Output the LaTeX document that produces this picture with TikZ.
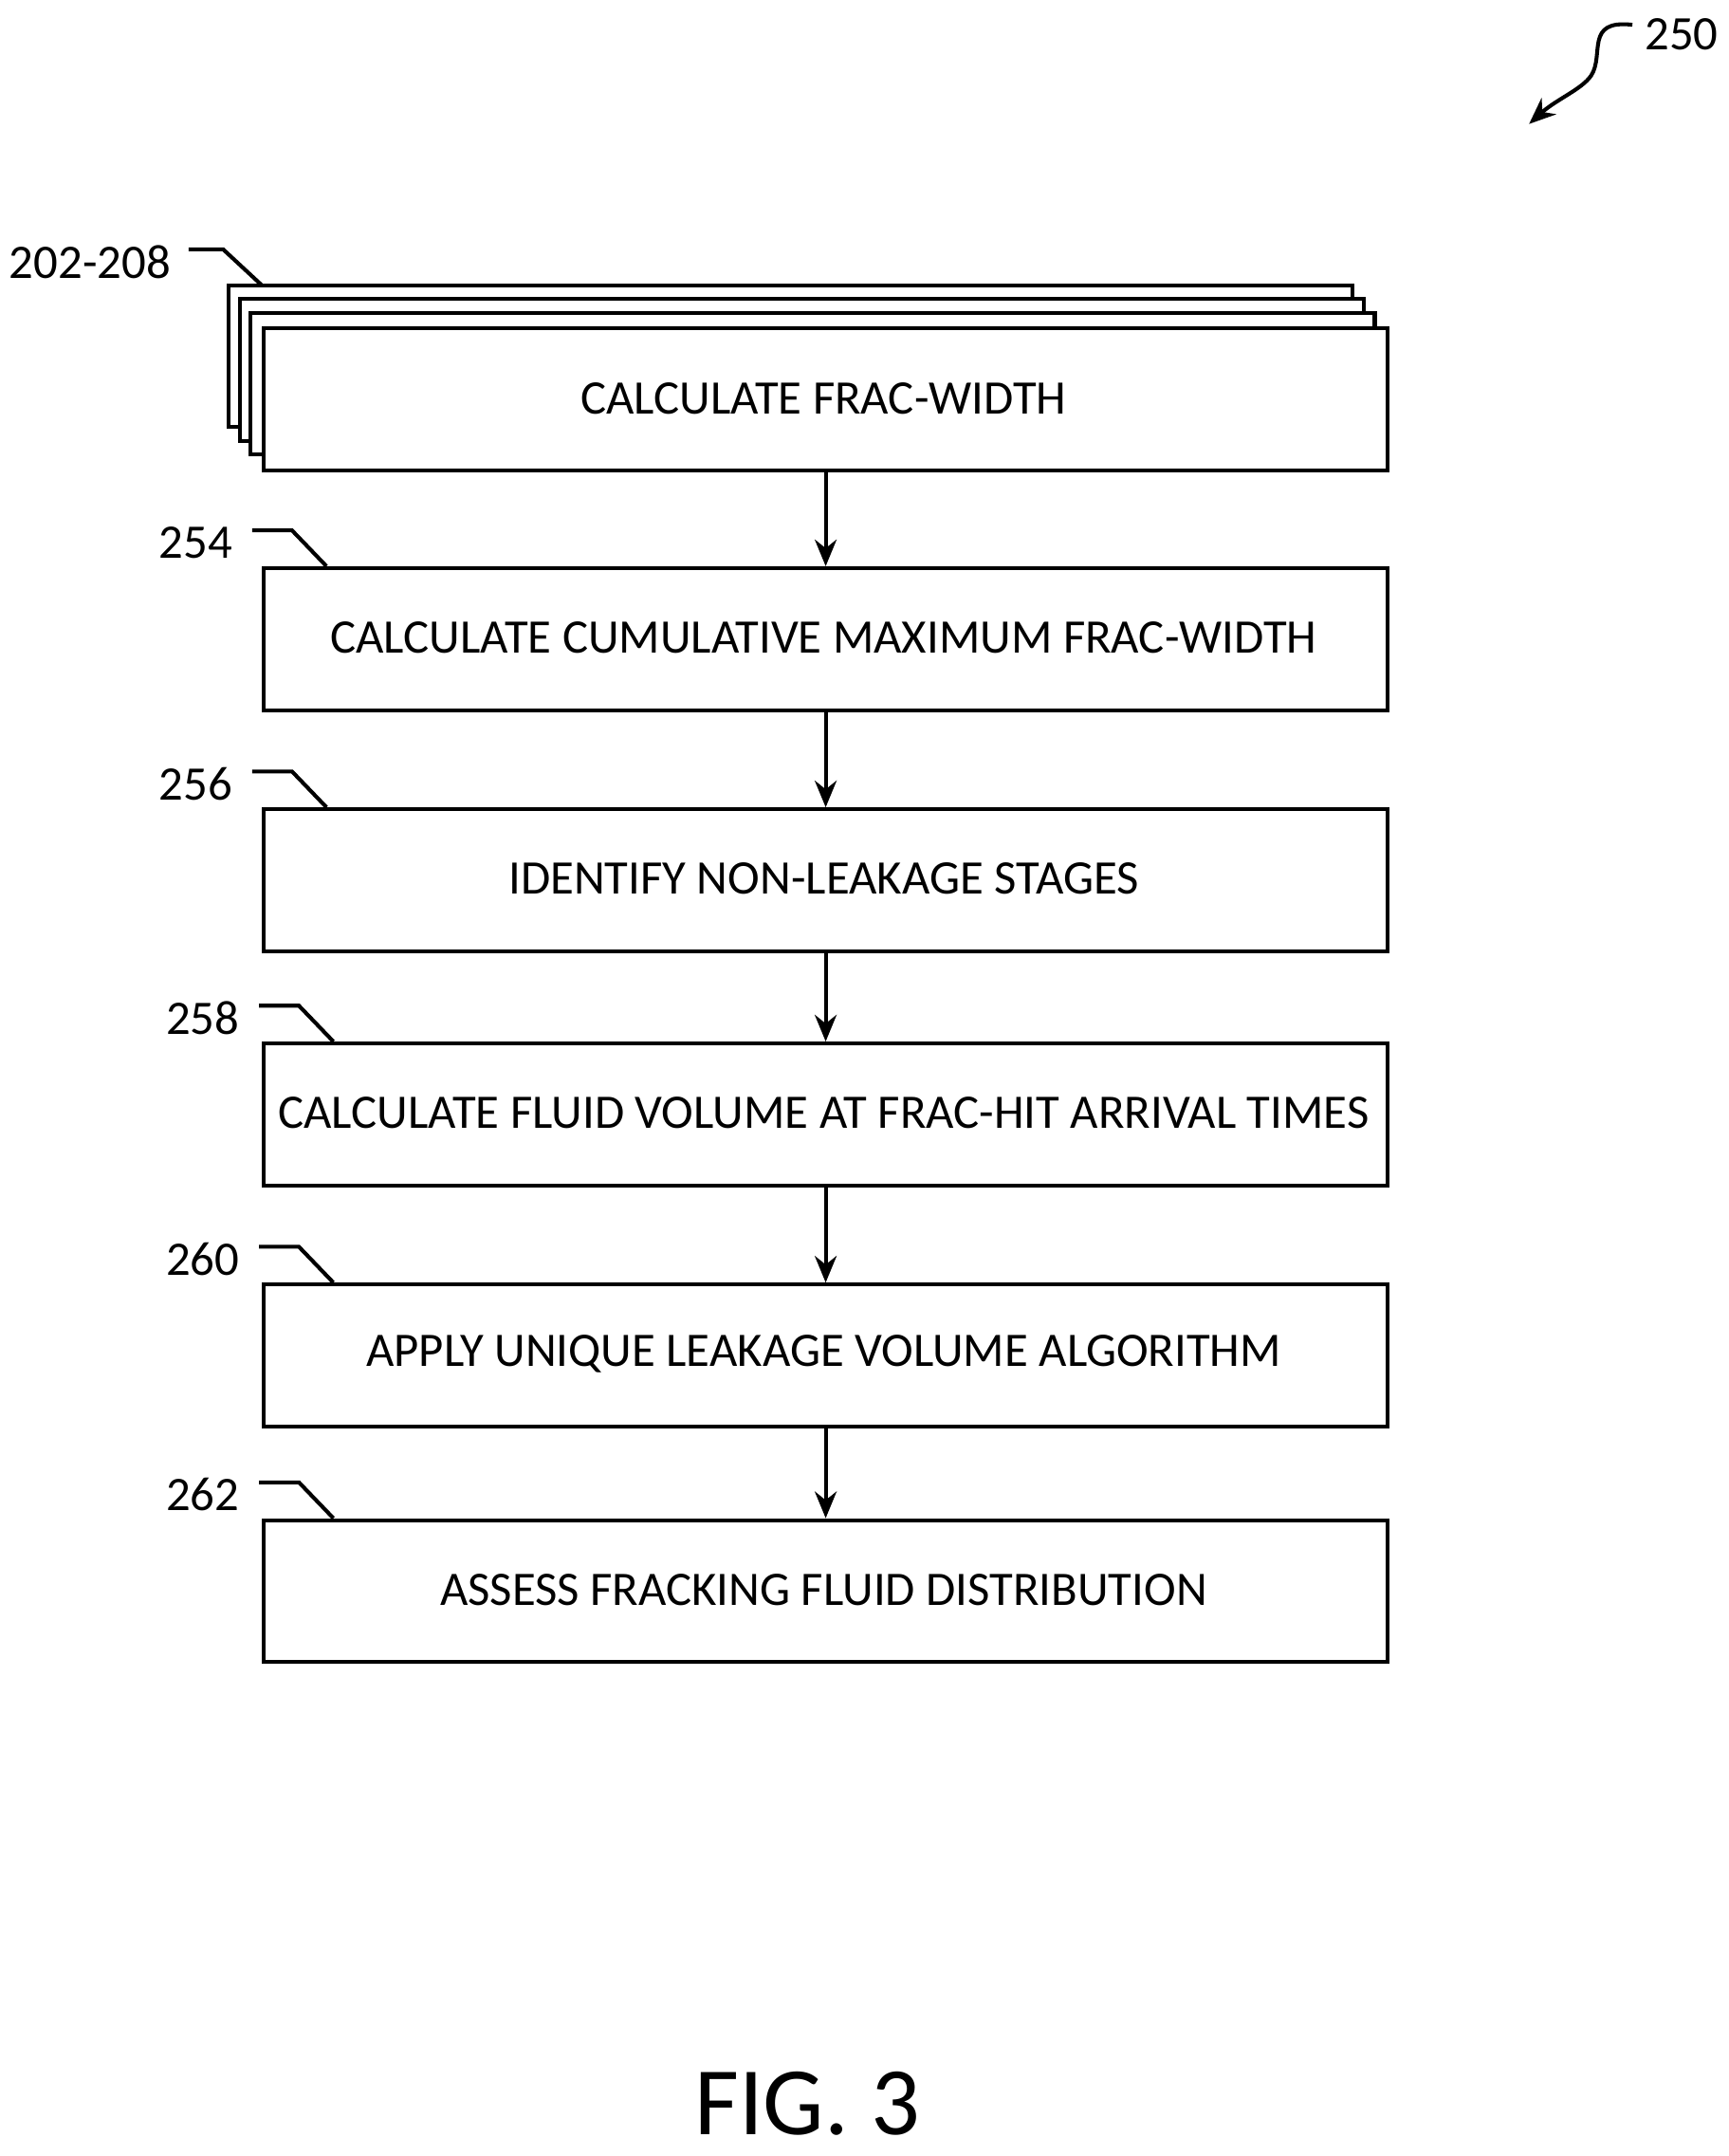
\documentclass[tikz,border=0pt]{standalone}
\usepackage{fontspec}
\setmainfont{Carlito}
\usetikzlibrary{arrows.meta}
\begin{document}
\begin{tikzpicture}[x=0.02cm,y=-0.02cm,
  box/.style={draw,line width=1.6pt,fill=white},
  txt/.style={font=\fontsize{19.9}{22}\selectfont},
  lbl/.style={font=\fontsize{19.9}{22}\selectfont,anchor=east},
  lead/.style={line width=1.6pt},
  arr/.style={line width=1.6pt,-{Stealth[length=11pt,width=9pt]}}]
\useasboundingbox (0,0) rectangle (1255,1565);
% stacked boxes
\draw[box] (166,207) rectangle (982,310);
\draw[box] (174,217) rectangle (990,320);
\draw[box] (182,227) rectangle (998,330);
\node[box,minimum width=816*0.02cm,minimum height=103*0.02cm,anchor=north west,inner sep=0] (b1) at (190,237) {};
\node[txt] (t1) at (598,289) {CALCULATE FRAC-WIDTH};
\foreach \n/\y/\t in {2/411/CALCULATE CUMULATIVE MAXIMUM FRAC-WIDTH,3/586/IDENTIFY NON-LEAKAGE STAGES,4/756/CALCULATE FLUID VOLUME AT FRAC-HIT ARRIVAL TIMES,5/931/APPLY UNIQUE LEAKAGE VOLUME ALGORITHM,6/1102/ASSESS FRACKING FLUID DISTRIBUTION}{
  \node[box,txt,minimum width=816*0.02cm,minimum height=103*0.02cm,anchor=north west,inner sep=0] (b\n) at (190,\y) {};
  \node[txt] at (598,\y+52) {\t};
}
\foreach \a/\b in {1/2,2/3,3/4,4/5,5/6}{\draw[arr] (b\a.south) -- (b\b.north);}
% labels
\node[lbl] (l1) at (130,190) {202-208};
\coordinate (c1) at (190,207);
\draw[lead] (137,181) -- (162,181) -- (c1);
\foreach \n/\y/\lx/\t in {2/411/173/254,3/586/173/256,4/756/178/258,5/931/178/260,6/1102/178/262}{
  \node[lbl] (l\n) at (\lx+2,\y-17) {\t};
  \coordinate (c\n) at (\lx+64,\y);
  \draw[lead] (\lx+10,\y-26) -- (\lx+39,\y-26) -- (c\n);
}
\node[font=\fontsize{19.9}{22}\selectfont,anchor=west] (l250) at (1188,25) {250};
\coordinate (a0) at (1185,18);
\coordinate (a1) at (1110,90);
\draw[line width=1.6pt,-{Stealth[length=11pt,width=9pt]}] (a0) .. controls (1150,14) and (1165,40) .. (1155,55) .. controls (1148,65) and (1130,72) .. (a1);
\node[font=\fontsize{40}{46}\selectfont] (fig) at (586,1527) {FIG. 3};
\end{tikzpicture}
\end{document}
